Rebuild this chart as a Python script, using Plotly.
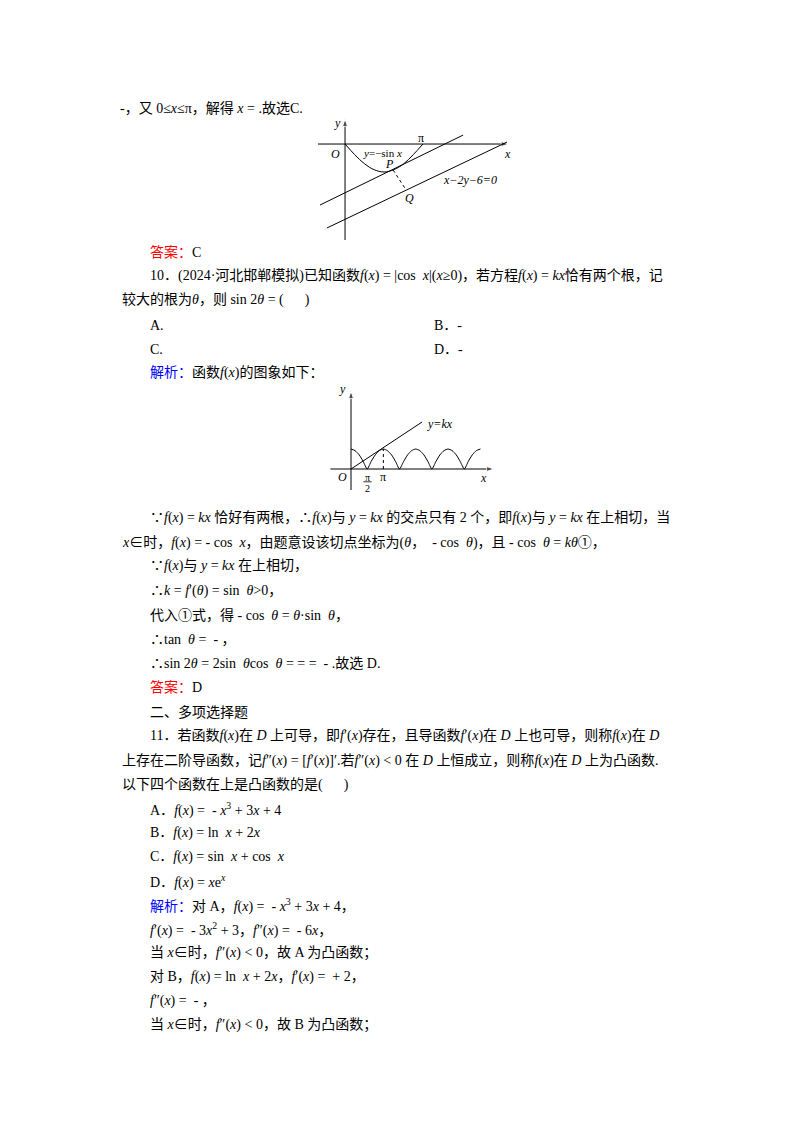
import plotly.graph_objects as go

OFF = 8  # page body margin
W, H = 800 - 2 * OFF, 1132 - 2 * OFF
FONT = "Liberation Serif, Noto Sans CJK SC, serif"

# ---- diagram 1 data ----
sin_x = [0, 0.39, 0.79, 1.18, 1.57, 1.96, 2.36, 2.75, 3.14]
sin_y = [0, -0.38, -0.71, -0.92, -1.0, -0.92, -0.71, -0.38, 0]
upper_line_x = [-1.01, 4.76]
upper_line_y = [-2.18, 0.32]
lower_line_x = [-0.73, 6.53]
lower_line_y = [-3.0, 0.07]
pq_x = [1.94, 2.46]
pq_y = [-0.93, -1.64]
axis1_x = [[-1.09, 6.6], [0, 0]]
axis1_y = [[0, 0], [-3.43, 0.9]]

# ---- diagram 2 data ----
cos_x = [0, 0.39, 0.79, 1.18, 1.57, 1.96, 2.36, 2.75, 3.14, 3.53, 3.93, 4.32, 4.71,
         5.11, 5.5, 5.89, 6.28, 6.68, 7.07, 7.46, 7.85, 8.25, 8.64, 9.03, 9.42,
         9.82, 10.21, 10.6, 11.0, 11.39, 11.78, 12.17, 12.57]
cos_y = [1, 0.92, 0.71, 0.38, 0, 0.38, 0.71, 0.92, 1, 0.92, 0.71, 0.38, 0,
         0.38, 0.71, 0.92, 1, 0.92, 0.71, 0.38, 0, 0.38, 0.71, 0.92, 1,
         0.92, 0.71, 0.38, 0, 0.38, 0.71, 0.92, 1]
kx_x = [0, 6.9]
kx_y = [0, 2.35]
dash_x = [3.14, 3.14]
dash_y = [0, 1]
axis2_x = [[-2.0, 13.9], [0, 0]]
axis2_y = [[0, 0], [-1.05, 3.9]]

# ---- text lines: (left px, center y px, text) ----
lines = [
    (118, 108, "-，又 0≤<i>x</i>≤π，解得 <i>x</i> = .故选C."),
    (148, 252, "<span style='color:red'>答案：</span>C"),
    (148, 276, "10．(2024·河北邯郸模拟)已知函数<i>f</i>(<i>x</i>) = |cos  <i>x</i>|(<i>x</i>≥0)，若方程<i>f</i>(<i>x</i>) = <i>kx</i>恰有两个根，记"),
    (120, 300, "较大的根为<i>θ</i>，则 sin 2<i>θ</i> = (      )"),
    (148, 325, "A."),
    (432, 325, "B．-"),
    (148, 349, "C."),
    (432, 349, "D．-"),
    (148, 373, "<span style='color:blue'>解析：</span>函数<i>f</i>(<i>x</i>)的图象如下："),
    (148, 517, "∵<i>f</i>(<i>x</i>) = <i>kx</i> 恰好有两根，∴<i>f</i>(<i>x</i>)与 <i>y</i> = <i>kx</i> 的交点只有 2 个，即<i>f</i>(<i>x</i>)与 <i>y</i> = <i>kx</i> 在上相切，当"),
    (120, 542, "<i>x</i>∈时，<i>f</i>(<i>x</i>) = - cos  <i>x</i>，由题意设该切点坐标为(<i>θ</i>，  - cos  <i>θ</i>)，且 - cos  <i>θ</i> = <i>kθ</i>①，"),
    (148, 566, "∵<i>f</i>(<i>x</i>)与 <i>y</i> = <i>kx</i> 在上相切，"),
    (148, 591, "∴<i>k</i> = <i>f</i>′(<i>θ</i>) = sin  <i>θ</i>>0，"),
    (148, 615, "代入①式，得 - cos  <i>θ</i> = <i>θ</i>·sin  <i>θ</i>，"),
    (148, 639, "∴tan  <i>θ</i> =  - ，"),
    (148, 663, "∴sin 2<i>θ</i> = 2sin  <i>θ</i>cos  <i>θ</i> = = =  - .故选 D."),
    (148, 687, "<span style='color:red'>答案：</span>D"),
    (148, 712, "二、多项选择题"),
    (148, 736, "11．若函数<i>f</i>(<i>x</i>)在 <i>D</i> 上可导，即<i>f</i>′(<i>x</i>)存在，且导函数<i>f</i>′(<i>x</i>)在 <i>D</i> 上也可导，则称<i>f</i>(<i>x</i>)在 <i>D</i>"),
    (120, 761, "上存在二阶导函数，记<i>f</i>″(<i>x</i>) = [<i>f</i>′(<i>x</i>)]′.若<i>f</i>″(<i>x</i>) < 0 在 <i>D</i> 上恒成立，则称<i>f</i>(<i>x</i>)在 <i>D</i> 上为凸函数."),
    (120, 785, "以下四个函数在上是凸函数的是(      )"),
    (148, 809, "A．<i>f</i>(<i>x</i>) =  - <i>x</i><sup>3</sup> + 3<i>x</i> + 4"),
    (148, 833, "B．<i>f</i>(<i>x</i>) = ln  <i>x</i> + 2<i>x</i>"),
    (148, 857, "C．<i>f</i>(<i>x</i>) = sin  <i>x</i> + cos  <i>x</i>"),
    (148, 881, "D．<i>f</i>(<i>x</i>) = <i>x</i>e<sup><i>x</i></sup>"),
    (148, 905, "<span style='color:blue'>解析：</span>对 A，<i>f</i>(<i>x</i>) =  - <i>x</i><sup>3</sup> + 3<i>x</i> + 4，"),
    (148, 929, "<i>f</i>′(<i>x</i>) =  - 3<i>x</i><sup>2</sup> + 3，<i>f</i>″(<i>x</i>) =  - 6<i>x</i>，"),
    (148, 953, "当 <i>x</i>∈时，<i>f</i>″(<i>x</i>) < 0，故 A 为凸函数；"),
    (148, 977, "对 B，<i>f</i>(<i>x</i>) = ln  <i>x</i> + 2<i>x</i>，<i>f</i>′(<i>x</i>) =  + 2，"),
    (148, 1001, "<i>f</i>″(<i>x</i>) =  - ，"),
    (148, 1025, "当 <i>x</i>∈时，<i>f</i>″(<i>x</i>) < 0，故 B 为凸函数；"),
]

fig = go.Figure()
ln = dict(color="black", width=1)

def axis_traces(xs, ys, xa, ya):
    for ax_, ay_ in zip(xs, ys):
        fig.add_trace(go.Scatter(x=ax_, y=ay_, mode="lines+markers", line=ln,
                                 marker=dict(symbol="arrow", size=[0, 8], angleref="previous", color="black"),
                                 xaxis=xa, yaxis=ya, hoverinfo="skip"))

axis_traces(axis1_x, axis1_y, "x", "y")
fig.add_trace(go.Scatter(x=sin_x, y=sin_y, mode="lines", line=dict(color="black", width=1, shape="spline"), xaxis="x", yaxis="y"))
fig.add_trace(go.Scatter(x=upper_line_x, y=upper_line_y, mode="lines", line=ln, xaxis="x", yaxis="y"))
fig.add_trace(go.Scatter(x=lower_line_x, y=lower_line_y, mode="lines", line=ln, xaxis="x", yaxis="y"))
fig.add_trace(go.Scatter(x=pq_x, y=pq_y, mode="lines", line=dict(color="black", width=1, dash="dot"), xaxis="x", yaxis="y"))

axis_traces(axis2_x, axis2_y, "x2", "y2")
fig.add_trace(go.Scatter(x=cos_x, y=cos_y, mode="lines", line=dict(color="black", width=1, shape="spline", smoothing=0.6), xaxis="x2", yaxis="y2"))
fig.add_trace(go.Scatter(x=kx_x, y=kx_y, mode="lines", line=ln, xaxis="x2", yaxis="y2"))
fig.add_trace(go.Scatter(x=dash_x, y=dash_y, mode="lines", line=dict(color="black", width=1, dash="dot"), xaxis="x2", yaxis="y2"))

ann = []
for px, py, t in lines:
    ann.append(dict(x=(px - OFF) / W, y=1 - (py - OFF) / H, xref="paper", yref="paper", xanchor="left", yanchor="middle",
                    text=t, showarrow=False, font=dict(family=FONT, size=14, color="black")))

def lab(xr, yr, x, y, t, size=12, italic=True):
    ann.append(dict(x=x, y=y, xref=xr, yref=yr, text=f"<i>{t}</i>" if italic else t, showarrow=False,
                    font=dict(family=FONT, size=size, color="black")))

lab("x", "y", -0.3, 0.75, "y")
lab("x", "y", -0.4, -0.35, "O")
lab("x", "y", 6.55, -0.35, "x")
lab("x", "y", 3.05, 0.22, "π", italic=False)
lab("x", "y", 1.5, -0.33, "<i>y</i>=−sin <i>x</i>", size=11, italic=False)
lab("x", "y", 1.8, -0.72, "P")
lab("x", "y", 5.05, -1.28, "x−2y−6=0")
lab("x", "y", 2.6, -1.93, "Q")

lab("x2", "y2", -0.8, 4.0, "y")
lab("x2", "y2", -0.8, -0.4, "O")
lab("x2", "y2", 12.9, -0.45, "x")
lab("x2", "y2", 1.6, -0.4, "π", size=10, italic=False)
lab("x2", "y2", 1.6, -0.95, "2", size=10, italic=False)
lab("x2", "y2", 3.14, -0.4, "π", italic=False)
lab("x2", "y2", 8.6, 2.25, "y=kx")

fig.add_shape(type="line", xref="x2", yref="y2", x0=1.2, x1=2.0, y0=-0.64, y1=-0.64, line=dict(color="black", width=0.8))

ax_common = dict(visible=False, showgrid=False, zeroline=False, fixedrange=True)
def xd(a, b):
    return [(a - OFF) / W, (b - OFF) / W]
def yd(top, bot):
    return [1 - (bot - OFF) / H, 1 - (top - OFF) / H]

fig.update_layout(
    width=W, height=H, margin=dict(l=0, r=0, t=0, b=0),
    paper_bgcolor="white", plot_bgcolor="white", showlegend=False,
    xaxis=dict(domain=xd(318, 512), range=[-1.09, 6.73], anchor="y", **ax_common),
    yaxis=dict(domain=yd(118, 240), range=[-3.43, 0.93], anchor="x", **ax_common),
    xaxis2=dict(domain=xd(330, 495), range=[-2.04, 13.98], anchor="y2", **ax_common),
    yaxis2=dict(domain=yd(385, 490), range=[-1.05, 4.2], anchor="x2", **ax_common),
    annotations=ann,
)
fig.write_html("out.html")
